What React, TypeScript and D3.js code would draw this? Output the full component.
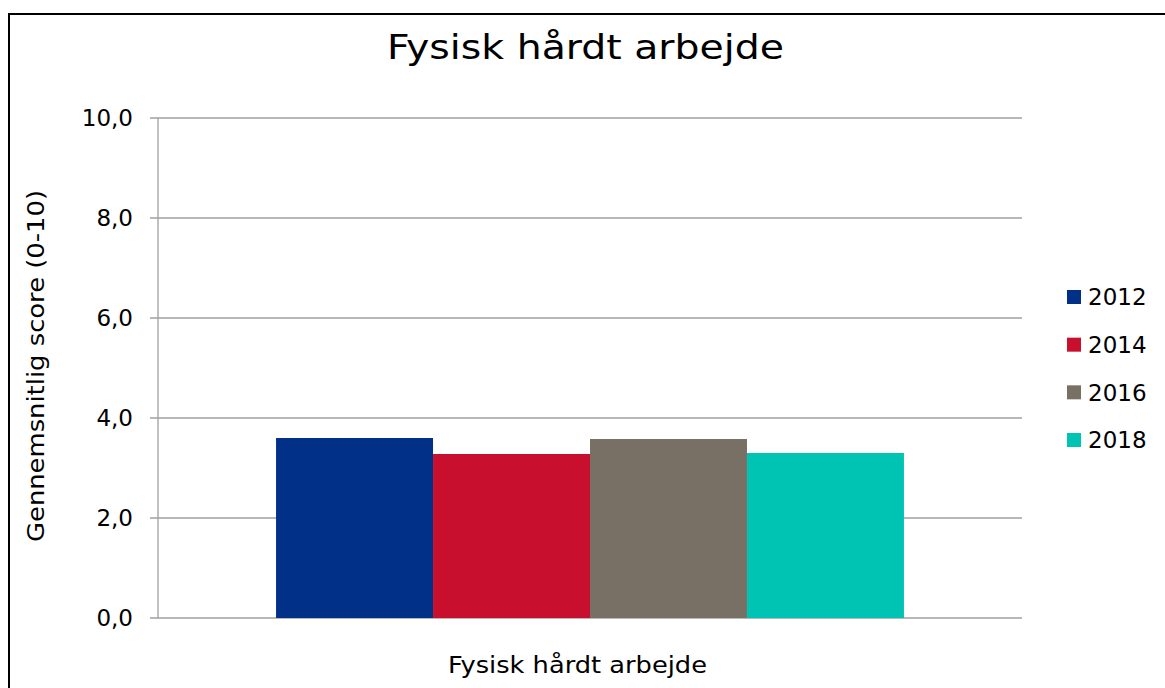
import React from "react";
import * as d3 from "d3";

const categories = ["Fysisk hårdt arbejde"];
const years = ["2012", "2014", "2016", "2018"];
const values = [3.6, 3.28, 3.58, 3.3];
const colors = ["#003087", "#C8102E", "#787064", "#00C4B3"];
const yTicks = [0, 2, 4, 6, 8, 10];

const W = 1165;
const H = 688;
const FONT = "DejaVu Sans, Verdana, sans-serif";

export default function App() {
  const plot = { left: 158, right: 1022, top: 118, bottom: 618 };
  const y = d3.scaleLinear().domain([0, 10]).range([plot.bottom, plot.top]);
  const x0 = d3
    .scaleBand()
    .domain(categories)
    .range([plot.left, plot.right])
    .paddingInner(0)
    .paddingOuter(0.188);
  const x1 = d3.scaleBand().domain(years).range([0, x0.bandwidth()]);
  const fmt = (v: number) => v.toFixed(1).replace(".", ",");
  const legendY = d3.scalePoint().domain(years).range([297, 440]);

  return (
    <svg
      width={W}
      height={H}
      style={{ position: "absolute", left: 0, top: 0 }}
      fontFamily={FONT}
    >
      <rect x={0} y={0} width={W} height={H} fill="#fff" />
      <rect x={9} y={14} width={W + 20} height={H + 20} fill="#fff" stroke="#000" strokeWidth={2} />
      <text
        x={387}
        y={59}
        fontSize={33}
        fill="#000"
        textLength={397}
        lengthAdjust="spacingAndGlyphs"
      >
        Fysisk hårdt arbejde
      </text>
      {yTicks.map((t) => (
        <g key={t}>
          <line
            x1={plot.left - 8}
            x2={plot.right}
            y1={y(t)}
            y2={y(t)}
            stroke="#a0a0a0"
            strokeWidth={1.3}
          />
          <text
            x={133}
            y={y(t)}
            dy="0.36em"
            textAnchor="end"
            fontSize={23}
            fill="#000"
          >
            {fmt(t)}
          </text>
        </g>
      ))}
      <line x1={plot.left} x2={plot.left} y1={plot.top} y2={plot.bottom} stroke="#a0a0a0" strokeWidth={1.3} />
      {categories.map((c) =>
        years.map((yr, i) => (
          <rect
            key={c + yr}
            x={(x0(c) as number) + (x1(yr) as number)}
            y={y(values[i])}
            width={x1.bandwidth()}
            height={y(0) - y(values[i])}
            fill={colors[i]}
          />
        ))
      )}
      {categories.map((c) => (
        <text
          key={c}
          x={448}
          y={673}
          fontSize={23}
          fill="#000"
          textLength={259}
          lengthAdjust="spacingAndGlyphs"
        >
          {c}
        </text>
      ))}
      <text
        transform={`translate(44,542) rotate(-90)`}
        fontSize={23}
        fill="#000"
        textLength={352}
        lengthAdjust="spacingAndGlyphs"
      >
        Gennemsnitlig score (0-10)
      </text>
      {years.map((yr, i) => (
        <g key={yr}>
          <rect x={1067} y={(legendY(yr) as number) - 7} width={14} height={14} fill={colors[i]} />
          <text x={1088} y={legendY(yr) as number} dy="0.36em" fontSize={23} fill="#000">
            {yr}
          </text>
        </g>
      ))}
    </svg>
  );
}
